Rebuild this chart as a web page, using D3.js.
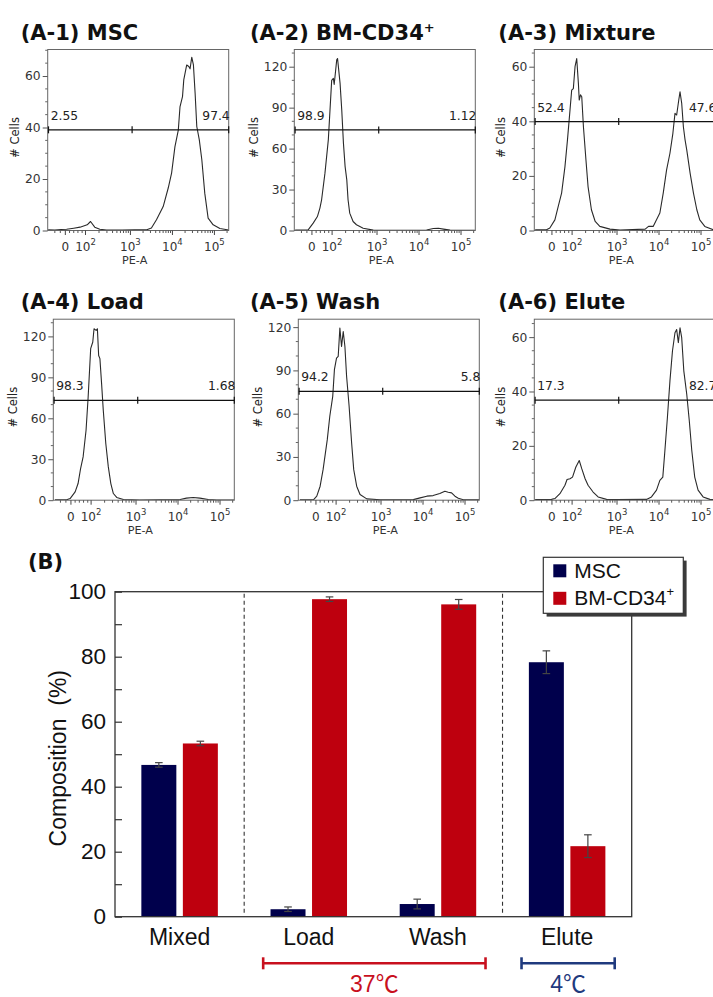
<!DOCTYPE html>
<html>
<head>
<meta charset="utf-8">
<script src="https://cdn.jsdelivr.net/npm/d3@7"></script>
<style>
html, body { margin: 0; padding: 0; background: #fff; overflow: hidden; }
svg { display: block; }
</style>
</head>
<body>
<svg id="fig" width="713" height="997"></svg>
<script>
// ---------- Flow cytometry histograms (PE-A channel) ----------
const panelTitles   = ["(A-1) MSC", "(A-2) BM-CD34", "(A-3) Mixture", "(A-4) Load", "(A-5) Wash", "(A-6) Elute"];
const panelTitleSup = ["", "+", "", "", "", ""];
const yMax          = [70.3, 132.6, 66.3, 132.6, 125.5, 66.6];
const yStep         = [20, 30, 20, 30, 30, 20];
const yMinorStep    = [5, 10, 5, 10, 10, 5];
const gateLevel     = [39.1, 73.7, 39.9, 73.2, 75.5, 36.8];
const gateSplit     = 3.04;                       // gate boundary, display decades
const gateLeftPct   = ["2.55", "98.9", "52.4", "98.3", "94.2", "17.3"];
const gateRightPct  = ["97.4", "1.12", "47.6", "1.68", "5.8", "82.7"];

// x axis in display decades (biexponential display)
const xTickAt     = [1.45, 1.93, 3, 4, 5];
const xTickBase   = ["0", "10", "10", "10", "10"];
const xTickExp    = ["", "2", "3", "4", "5"];

// histogram traces: [display decade, # cells]
const histA1 = [[1.04,0.3],[1.2,0.2],[1.35,0.4],[1.48,0.5],[1.65,0.9],[1.80,1.3],[1.97,2.2],[2.05,3.5],[2.15,1.3],[2.27,0.5],[2.43,0.2],[2.8,0.2],[3.1,0.3],[3.39,0.3],[3.50,1.0],[3.62,4.2],[3.78,9.3],[3.90,16.5],[3.98,22.3],[4.06,32.6],[4.14,39],[4.18,48],[4.24,52],[4.27,58.5],[4.34,64.3],[4.39,63.7],[4.42,62.8],[4.46,67.3],[4.50,64.3],[4.54,53.4],[4.58,40.4],[4.64,35.2],[4.70,27.5],[4.77,14.5],[4.85,4.8],[4.97,2.2],[5.13,0.8],[5.34,0.2]];
const histA2 = [[1.05,0.3],[1.32,0.3],[1.36,0.5],[1.48,5.4],[1.58,10.2],[1.64,16.4],[1.68,22.5],[1.76,42],[1.84,66.4],[1.92,110],[1.96,111.5],[1.98,107],[2.04,125],[2.06,126],[2.12,107.8],[2.16,88.3],[2.20,64],[2.24,46.8],[2.28,37.1],[2.31,22.5],[2.35,12.7],[2.43,6.6],[2.51,4.2],[2.67,1.7],[2.91,0.3],[3.5,0.2],[4.18,0.4],[4.34,1.5],[4.46,1.6],[4.58,1.0],[4.74,0.3],[5.33,0.2]];
const histA3 = [[1.05,0.3],[1.32,0.3],[1.40,0.9],[1.52,3.9],[1.60,8.8],[1.68,13.7],[1.76,23.4],[1.82,33.2],[1.88,44.1],[1.92,51.4],[1.96,52],[2.00,60],[2.04,63],[2.08,53.9],[2.10,47.8],[2.13,49.7],[2.16,49],[2.20,38],[2.26,25.8],[2.31,16.1],[2.39,7.6],[2.48,3.3],[2.59,1.5],[2.83,0.5],[3.07,0.2],[3.67,0.5],[3.75,1.5],[3.86,1.5],[4.02,6.4],[4.10,13.7],[4.18,22.2],[4.26,28.3],[4.33,35.6],[4.38,42.9],[4.42,42.3],[4.47,47.8],[4.50,50.8],[4.54,46.6],[4.58,38],[4.62,33.2],[4.66,29.5],[4.74,21],[4.82,13.7],[4.90,7.6],[4.97,3.9],[5.09,1.5],[5.29,0.3],[5.4,0.2]];
const histA4 = [[1.07,0.3],[1.35,0.3],[1.43,1.2],[1.55,6.1],[1.62,12.2],[1.68,23.2],[1.74,31.7],[1.81,51.2],[1.86,75.6],[1.92,111],[1.97,115.9],[2.00,125.6],[2.05,124.4],[2.08,125.6],[2.11,106],[2.14,103.7],[2.18,85.4],[2.22,65.9],[2.28,41.5],[2.34,24.4],[2.40,12.2],[2.46,4.9],[2.54,2],[2.70,0.5],[3.09,0.2],[4.05,0.5],[4.20,1.5],[4.36,2],[4.52,1.5],[4.72,0.5],[4.92,0.2],[5.35,0.2]];
const histA5 = [[1.07,0.3],[1.39,0.3],[1.47,2.8],[1.55,9.7],[1.62,21.2],[1.72,42],[1.78,58.2],[1.85,72],[1.89,90.5],[1.94,98.5],[1.98,99.7],[2.02,119.3],[2.06,106.6],[2.10,117],[2.14,106.6],[2.18,85.9],[2.24,65.1],[2.30,39.7],[2.35,21.2],[2.42,9.7],[2.50,3.9],[2.66,0.9],[2.98,0.3],[3.77,0.4],[3.93,1.6],[4.09,2.8],[4.24,3.2],[4.40,4.6],[4.52,6.2],[4.60,5.5],[4.68,5.1],[4.76,2.8],[4.84,1.4],[4.96,0.3],[5.34,0.2]];
const histA6 = [[1.05,0.2],[1.44,0.3],[1.52,0.6],[1.64,2.4],[1.76,5.5],[1.81,7.6],[1.88,7.9],[1.94,8.5],[2.02,12.2],[2.10,14.6],[2.16,11.6],[2.24,7.9],[2.31,5.5],[2.43,3],[2.55,1.2],[2.75,0.3],[2.99,0.2],[3.70,0.3],[3.82,1.2],[3.94,3.7],[4.02,7.3],[4.09,8.5],[4.14,18.3],[4.20,30.5],[4.26,43.9],[4.32,54.9],[4.38,61.6],[4.42,62.8],[4.46,58],[4.50,63.4],[4.54,59.8],[4.59,47.6],[4.66,39],[4.72,29.3],[4.78,18.3],[4.85,8.5],[4.93,3.7],[5.05,1.2],[5.21,0.3],[5.4,0.2]];
const histograms = [histA1, histA2, histA3, histA4, histA5, histA6];

// ---------- Bar chart (B) ----------
const categories  = ["Mixed", "Load", "Wash", "Elute"];
const seriesNames = ["MSC", "BM-CD34"];
const mscMean = [46.7, 2.3, 3.9, 78.3];
const mscErr  = [0.7, 0.7, 1.5, 3.5];
const bmMean  = [53.3, 97.7, 96.1, 21.7];
const bmErr   = [0.7, 0.7, 1.5, 3.5];
const yTicksB = [0, 20, 40, 60, 80, 100];
const tempLabels = ["37℃", "4℃"];
const tempSpans  = [["Load", "Wash"], ["Elute", "Elute"]];

// ---------- layout ----------
const svg = d3.select("#fig");
const histFont = "'DejaVu Sans', Verdana, sans-serif";
const barFont  = "'Liberation Sans', Arial, Helvetica, 'Noto Sans CJK JP', sans-serif";
const navy = "#00004c", red = "#be000e";

const P = 181;                                   // histogram frame size
const panelLeft = [47.7, 294.3, 534.3, 53.3, 298.3, 534.3];
const panelTop  = [49.5, 49.5, 49.5, 319.2, 319.2, 319.2];
const titleX    = [20.7, 250, 498.3, 20.7, 250, 498.3];

const xDec = d3.scaleLinear().domain([1.03, 5.34]).range([0, P]);

// minor ticks on the display-decade axis
const xMinor = [1.2, 1.33, 1.55, 1.65, 1.75, 1.85];
const decadeStarts = [[1.93, 3], [3, 4], [4, 5], [5, 6]];
decadeStarts.forEach(([a, b]) => {
  d3.range(2, 10).forEach(k => {
    const v = a + (b - a) * Math.log10(k);
    if (v < 5.34) xMinor.push(v);
  });
});

const defs = svg.append("defs");

histograms.forEach((hist, i) => {
  const g = svg.append("g").attr("transform", `translate(${panelLeft[i]},${panelTop[i]})`);
  const y = d3.scaleLinear().domain([0, yMax[i]]).range([P, 0]);

  // title
  const t = svg.append("text")
    .attr("x", titleX[i]).attr("y", panelTop[i] - 10)
    .attr("font-family", histFont).attr("font-weight", "bold")
    .attr("font-size", 21).attr("fill", "#111")
    .text(panelTitles[i]);
  if (panelTitleSup[i]) {
    t.append("tspan").attr("dy", -8).attr("font-size", 13).text(panelTitleSup[i]);
  }

  defs.append("clipPath").attr("id", "clip" + i)
    .append("rect").attr("width", P).attr("height", P);

  // histogram trace
  g.append("path")
    .datum(hist)
    .attr("clip-path", `url(#clip${i})`)
    .attr("fill", "none").attr("stroke", "#2a2a2a").attr("stroke-width", 1.1)
    .attr("stroke-linejoin", "round")
    .attr("d", d3.line().x(d => xDec(d[0])).y(d => y(d[1])));

  // frame
  g.append("rect").attr("width", P).attr("height", P)
    .attr("fill", "none").attr("stroke", "#666").attr("stroke-width", 1);

  // y axis
  const yMajor = d3.range(0, yMax[i], yStep[i]);
  const ya = g.append("g").call(
    d3.axisLeft(y).tickValues(yMajor).tickSize(5).tickPadding(2).tickFormat(d3.format("d"))
  );
  ya.select(".domain").remove();
  ya.selectAll("line").attr("stroke", "#555");
  ya.selectAll("text").attr("font-family", histFont).attr("font-size", 12.3).attr("fill", "#333");
  g.append("g").selectAll("line")
    .data(d3.range(0, yMax[i], yMinorStep[i]).filter(v => v % yStep[i] !== 0))
    .join("line")
    .attr("x1", -2.5).attr("x2", 0)
    .attr("y1", d => y(d)).attr("y2", d => y(d))
    .attr("stroke", "#666");

  const labelW = String(yMajor[yMajor.length - 1]).length * 7.6;
  g.append("text")
    .attr("transform", `translate(${-(14 + labelW)},${P / 2 - 2.5}) rotate(-90)`)
    .attr("text-anchor", "middle")
    .attr("font-family", histFont).attr("font-size", 11.5).attr("fill", "#222")
    .text("# Cells");

  // x axis ticks (outside, below frame)
  g.append("g").selectAll("line").data(xMinor).join("line")
    .attr("x1", d => xDec(d)).attr("x2", d => xDec(d))
    .attr("y1", P).attr("y2", P + 2.5).attr("stroke", "#555");
  g.append("g").selectAll("line").data(xTickAt).join("line")
    .attr("x1", d => xDec(d)).attr("x2", d => xDec(d))
    .attr("y1", P).attr("y2", P + 4.5).attr("stroke", "#444");

  const xl = g.append("g").selectAll("text").data(xTickAt).join("text")
    .attr("x", d => xDec(d)).attr("y", P + 20.5)
    .attr("text-anchor", "middle")
    .attr("font-family", histFont).attr("font-size", 12).attr("fill", "#333");
  xl.each(function(d, k) {
    const el = d3.select(this);
    el.append("tspan").text(xTickBase[k]);
    if (xTickExp[k]) el.append("tspan").attr("dy", -6).attr("font-size", 8.5).text(xTickExp[k]);
  });

  g.append("text")
    .attr("x", 87).attr("y", P + 33.5)
    .attr("text-anchor", "middle")
    .attr("font-family", histFont).attr("font-size", 11.2).attr("fill", "#333")
    .text("PE-A");

  // gate bar with percentages
  const gy = y(gateLevel[i]);
  const gate = g.append("g").attr("stroke", "#111").attr("stroke-width", 1.2);
  gate.append("line").attr("x1", 0.5).attr("x2", P).attr("y1", gy).attr("y2", gy);
  [0.8, xDec(gateSplit), P].forEach(xv => {
    gate.append("line").attr("x1", xv).attr("x2", xv).attr("y1", gy - 3.5).attr("y2", gy + 3.5);
  });
  g.append("text").attr("x", 3).attr("y", gy - 10)
    .attr("font-family", histFont).attr("font-size", 12.3).attr("fill", "#222")
    .text(gateLeftPct[i]);
  g.append("text").attr("x", P + 1).attr("y", gy - 10).attr("text-anchor", "end")
    .attr("font-family", histFont).attr("font-size", 12.3).attr("fill", "#222")
    .text(gateRightPct[i]);
});

// ---------- (B) grouped bar chart ----------
const B = { left: 115, right: 631.7, top: 591.7, bottom: 916.7 };
const bx  = d3.scaleBand().domain(categories).range([B.left, B.right]).padding(0);
const bxs = d3.scaleBand().domain(seriesNames).range([26.35, 102.85]).paddingInner(0.157);
const by  = d3.scaleLinear().domain([0, 100]).range([B.bottom, B.top]);

svg.append("text").attr("x", 28).attr("y", 569)
  .attr("font-family", histFont).attr("font-weight", "bold").attr("font-size", 21).attr("fill", "#111")
  .text("(B)");

const rows = categories.map((c, k) => ({
  cat: c,
  vals: [
    { s: "MSC", m: mscMean[k], e: mscErr[k], col: navy },
    { s: "BM-CD34", m: bmMean[k], e: bmErr[k], col: red }
  ]
}));

const gBars = svg.append("g");
rows.forEach(r => {
  r.vals.forEach(v => {
    const x0 = bx(r.cat) + bxs(v.s);
    gBars.append("rect")
      .attr("x", x0).attr("width", bxs.bandwidth())
      .attr("y", by(v.m)).attr("height", by(0) - by(v.m))
      .attr("fill", v.col);
    const cx = x0 + bxs.bandwidth() / 2;
    const eb = gBars.append("g").attr("stroke", "#444").attr("stroke-width", 1.2);
    eb.append("line").attr("x1", cx).attr("x2", cx).attr("y1", by(v.m - v.e)).attr("y2", by(v.m + v.e));
    eb.append("line").attr("x1", cx - 3.8).attr("x2", cx + 3.8).attr("y1", by(v.m - v.e)).attr("y2", by(v.m - v.e));
    eb.append("line").attr("x1", cx - 3.8).attr("x2", cx + 3.8).attr("y1", by(v.m + v.e)).attr("y2", by(v.m + v.e));
  });
});

// separators between Mixed | 37℃ steps | 4℃ step
["Load", "Elute"].forEach(c => {
  svg.append("line")
    .attr("x1", bx(c)).attr("x2", bx(c)).attr("y1", B.top + 2).attr("y2", B.bottom - 3)
    .attr("stroke", "#333").attr("stroke-width", 1.1).attr("stroke-dasharray", "4,3");
});

// frame
svg.append("rect")
  .attr("x", B.left).attr("y", B.top).attr("width", B.right - B.left).attr("height", B.bottom - B.top)
  .attr("fill", "none").attr("stroke", "#333").attr("stroke-width", 1.3);

// y axis with inward ticks
const yaB = svg.append("g").attr("transform", `translate(${B.left},0)`)
  .call(d3.axisLeft(by).tickValues(d3.range(0, 101, 10)).tickSize(-7).tickPadding(9)
    .tickFormat(d => yTicksB.includes(d) ? d : ""));
yaB.select(".domain").remove();
yaB.selectAll("line").attr("stroke", "#333").attr("stroke-width", 1.2);
yaB.selectAll("text").attr("font-family", barFont).attr("font-size", 22.5).attr("fill", "#111");

svg.append("text")
  .attr("transform", `translate(66,${(B.top + B.bottom) / 2 + 4}) rotate(-90)`)
  .attr("text-anchor", "middle").style("white-space", "pre")
  .attr("font-family", barFont).attr("font-size", 23).attr("fill", "#111")
  .text("Composition  (%)");

// category labels
svg.append("g").selectAll("text").data(categories).join("text")
  .attr("x", d => bx(d) + bx.bandwidth() / 2).attr("y", 945)
  .attr("text-anchor", "middle")
  .attr("font-family", barFont).attr("font-size", 23).attr("fill", "#111")
  .text(d => d);

// legend with drop shadow
const lg = svg.append("g").attr("transform", "translate(543.3,557.3)");
lg.append("rect").attr("x", 3.3).attr("y", 3.3).attr("width", 140).attr("height", 56).attr("fill", "#3a3a3a");
lg.append("rect").attr("width", 140).attr("height", 56).attr("fill", "#fff").attr("stroke", "#333").attr("stroke-width", 1.2);
[[navy, "MSC", ""], [red, "BM-CD34", "+"]].forEach(([col, lab, sup], k) => {
  lg.append("rect").attr("x", 10).attr("y", 7 + k * 27.5).attr("width", 13).attr("height", 13).attr("fill", col);
  const tx = lg.append("text").attr("x", 31).attr("y", 20.7 + k * 27.5)
    .attr("font-family", barFont).attr("font-size", 21).attr("fill", "#111").text(lab);
  if (sup) tx.append("tspan").attr("dy", -9).attr("font-size", 13).text(sup);
});

// temperature brackets below the x axis
const tempColors = ["#c8101e", "#1f3a7e"];
tempSpans.forEach(([a, b], k) => {
  const x1 = bx(a) + 19, x2 = bx(b) + bx.bandwidth() - 17, yb = 963.3;
  const br = svg.append("g").attr("stroke", tempColors[k]).attr("stroke-width", 2.6);
  br.append("line").attr("x1", x1).attr("x2", x2).attr("y1", yb).attr("y2", yb);
  br.append("line").attr("x1", x1).attr("x2", x1).attr("y1", yb - 6).attr("y2", yb + 6);
  br.append("line").attr("x1", x2).attr("x2", x2).attr("y1", yb - 6).attr("y2", yb + 6);
  svg.append("text").attr("x", (x1 + x2) / 2).attr("y", 992)
    .attr("text-anchor", "middle")
    .attr("font-family", barFont).attr("font-size", 23).attr("fill", tempColors[k])
    .text(tempLabels[k]);
});
</script>
</body>
</html>
